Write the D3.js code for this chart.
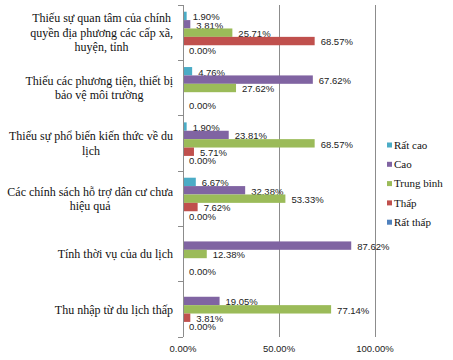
<!DOCTYPE html>
<html><head><meta charset="utf-8">
<script src="https://cdn.jsdelivr.net/npm/d3@7"></script>
<style>body{margin:0;background:#fff}svg{display:block}
.serif{font-family:"Liberation Serif","Times New Roman",serif}
.sans{font-family:"Liberation Sans",Arial,sans-serif}
</style>
</head><body>
<svg id="c" width="453" height="360"></svg>
<script>
const categories = [
  "Thiếu sự quan tâm của chính quyền địa phương các cấp xã, huyện, tỉnh",
  "Thiếu các phương tiện, thiết bị bảo vệ môi trường",
  "Thiếu sự phổ biến kiến thức về du lịch",
  "Các chính sách hỗ trợ dân cư chưa hiệu quả",
  "Tính thời vụ của du lịch",
  "Thu nhập từ du lịch thấp"
];
const categoryLines = [
  ["Thiếu sự quan tâm của chính", "quyền địa phương các cấp xã,", "huyện, tỉnh"],
  ["Thiếu các phương tiện, thiết bị", "bảo vệ môi trường"],
  ["Thiếu sự phổ biến kiến thức về du", "lịch"],
  ["Các chính sách hỗ trợ dân cư chưa", "hiệu quả"],
  ["Tính thời vụ của du lịch"],
  ["Thu nhập từ du lịch thấp"]
];
const seriesNames = ["Rất cao", "Cao", "Trung bình", "Thấp", "Rất thấp"];
const seriesColors = ["#4bacc6", "#8064a2", "#9bbb59", "#c0504d", "#4f81bd"];
const ratCao   = [1.90, 4.76, 1.90, 6.67, null, null];
const cao      = [3.81, 67.62, 23.81, 32.38, 87.62, 19.05];
const trungBinh= [25.71, 27.62, 68.57, 53.33, 12.38, 77.14];
const thap     = [68.57, null, 5.71, 7.62, null, 3.81];
const ratThap  = [0.00, 0.00, 0.00, 0.00, 0.00, 0.00];
const seriesValues = [ratCao, cao, trungBinh, thap, ratThap];
const xTicks = [0, 50, 100];

const svg = d3.select("#c");
const x = d3.scaleLinear().domain([0, 100]).range([183, 375]);
const y = d3.scaleBand().domain(categories).range([5, 337]).padding(0);
const ys = d3.scaleBand().domain(seriesNames).range([0, y.bandwidth()]).paddingInner(0).paddingOuter(0.8);

// gridlines
svg.append("g").selectAll("line").data(xTicks.slice(1)).join("line")
  .attr("x1", d => x(d)).attr("x2", d => x(d))
  .attr("y1", 5).attr("y2", 337)
  .attr("stroke", "#8c8c8c").attr("stroke-width", 1).attr("shape-rendering", "crispEdges");

// bars
const groups = svg.append("g").selectAll("g").data(categories).join("g")
  .attr("transform", d => `translate(0,${y(d)})`);
seriesNames.forEach((s, si) => {
  groups.each(function(c, ci) {
    const v = seriesValues[si][ci];
    if (v === null) return;
    const g = d3.select(this);
    g.append("rect")
      .attr("x", x(0)).attr("y", ys(s))
      .attr("width", x(v) - x(0)).attr("height", ys.bandwidth())
      .attr("fill", seriesColors[si]);
    g.append("text").attr("class", "sans")
      .attr("x", x(v) + 6).attr("y", ys(s) + ys.bandwidth() / 2 + 1)
      .attr("dy", "0.35em")
      .attr("font-size", 9.5).attr("fill", "#222")
      .text(v.toFixed(2) + "%");
  });
});

// y axis line and ticks
const yAxis = svg.append("g");
yAxis.append("line").attr("x1", x(0)).attr("x2", x(0)).attr("y1", 5).attr("y2", 337)
  .attr("stroke", "#8c8c8c").attr("shape-rendering", "crispEdges");
const bounds = categories.map(c => y(c)).concat([y.range()[1]]);
yAxis.selectAll("line.t").data(bounds).join("line").attr("class", "t")
  .attr("x1", x(0) - 5).attr("x2", x(0)).attr("y1", d => d).attr("y2", d => d)
  .attr("stroke", "#8c8c8c").attr("shape-rendering", "crispEdges");

// category labels
categories.forEach((c, ci) => {
  const lines = categoryLines[ci];
  const g = svg.append("g");
  const lh = 14.5;
  const cy = y(c) + y.bandwidth() / 2;
  const texts = lines.map((l, li) => g.append("text").attr("class", "serif")
    .attr("y", cy + (li - (lines.length - 1) / 2) * lh)
    .attr("dy", "0.35em")
    .attr("text-anchor", "middle")
    .attr("font-size", 12).attr("fill", "#111")
    .text(l));
  const maxW = d3.max(texts, t => t.node().getComputedTextLength());
  texts.forEach(t => t.attr("x", 173 - maxW / 2));
});

// x tick labels
svg.append("g").selectAll("text").data(xTicks).join("text").attr("class", "sans")
  .attr("x", d => x(d)).attr("y", 349).attr("dy", "0.35em")
  .attr("text-anchor", "middle")
  .attr("font-size", 9.5).attr("fill", "#222")
  .text(d => d.toFixed(2) + "%");

// legend
const leg = svg.append("g").selectAll("g").data(seriesNames).join("g")
  .attr("transform", (d, i) => `translate(387,${145 + i * 19.3})`);
leg.append("rect").attr("x", 0).attr("y", -2.5).attr("width", 5).attr("height", 5)
  .attr("fill", (d, i) => seriesColors[i]);
leg.append("text").attr("class", "serif").attr("x", 7).attr("y", 0).attr("dy", "0.35em")
  .attr("font-size", 11).attr("fill", "#111")
  .text(d => d);
</script>
</body></html>
